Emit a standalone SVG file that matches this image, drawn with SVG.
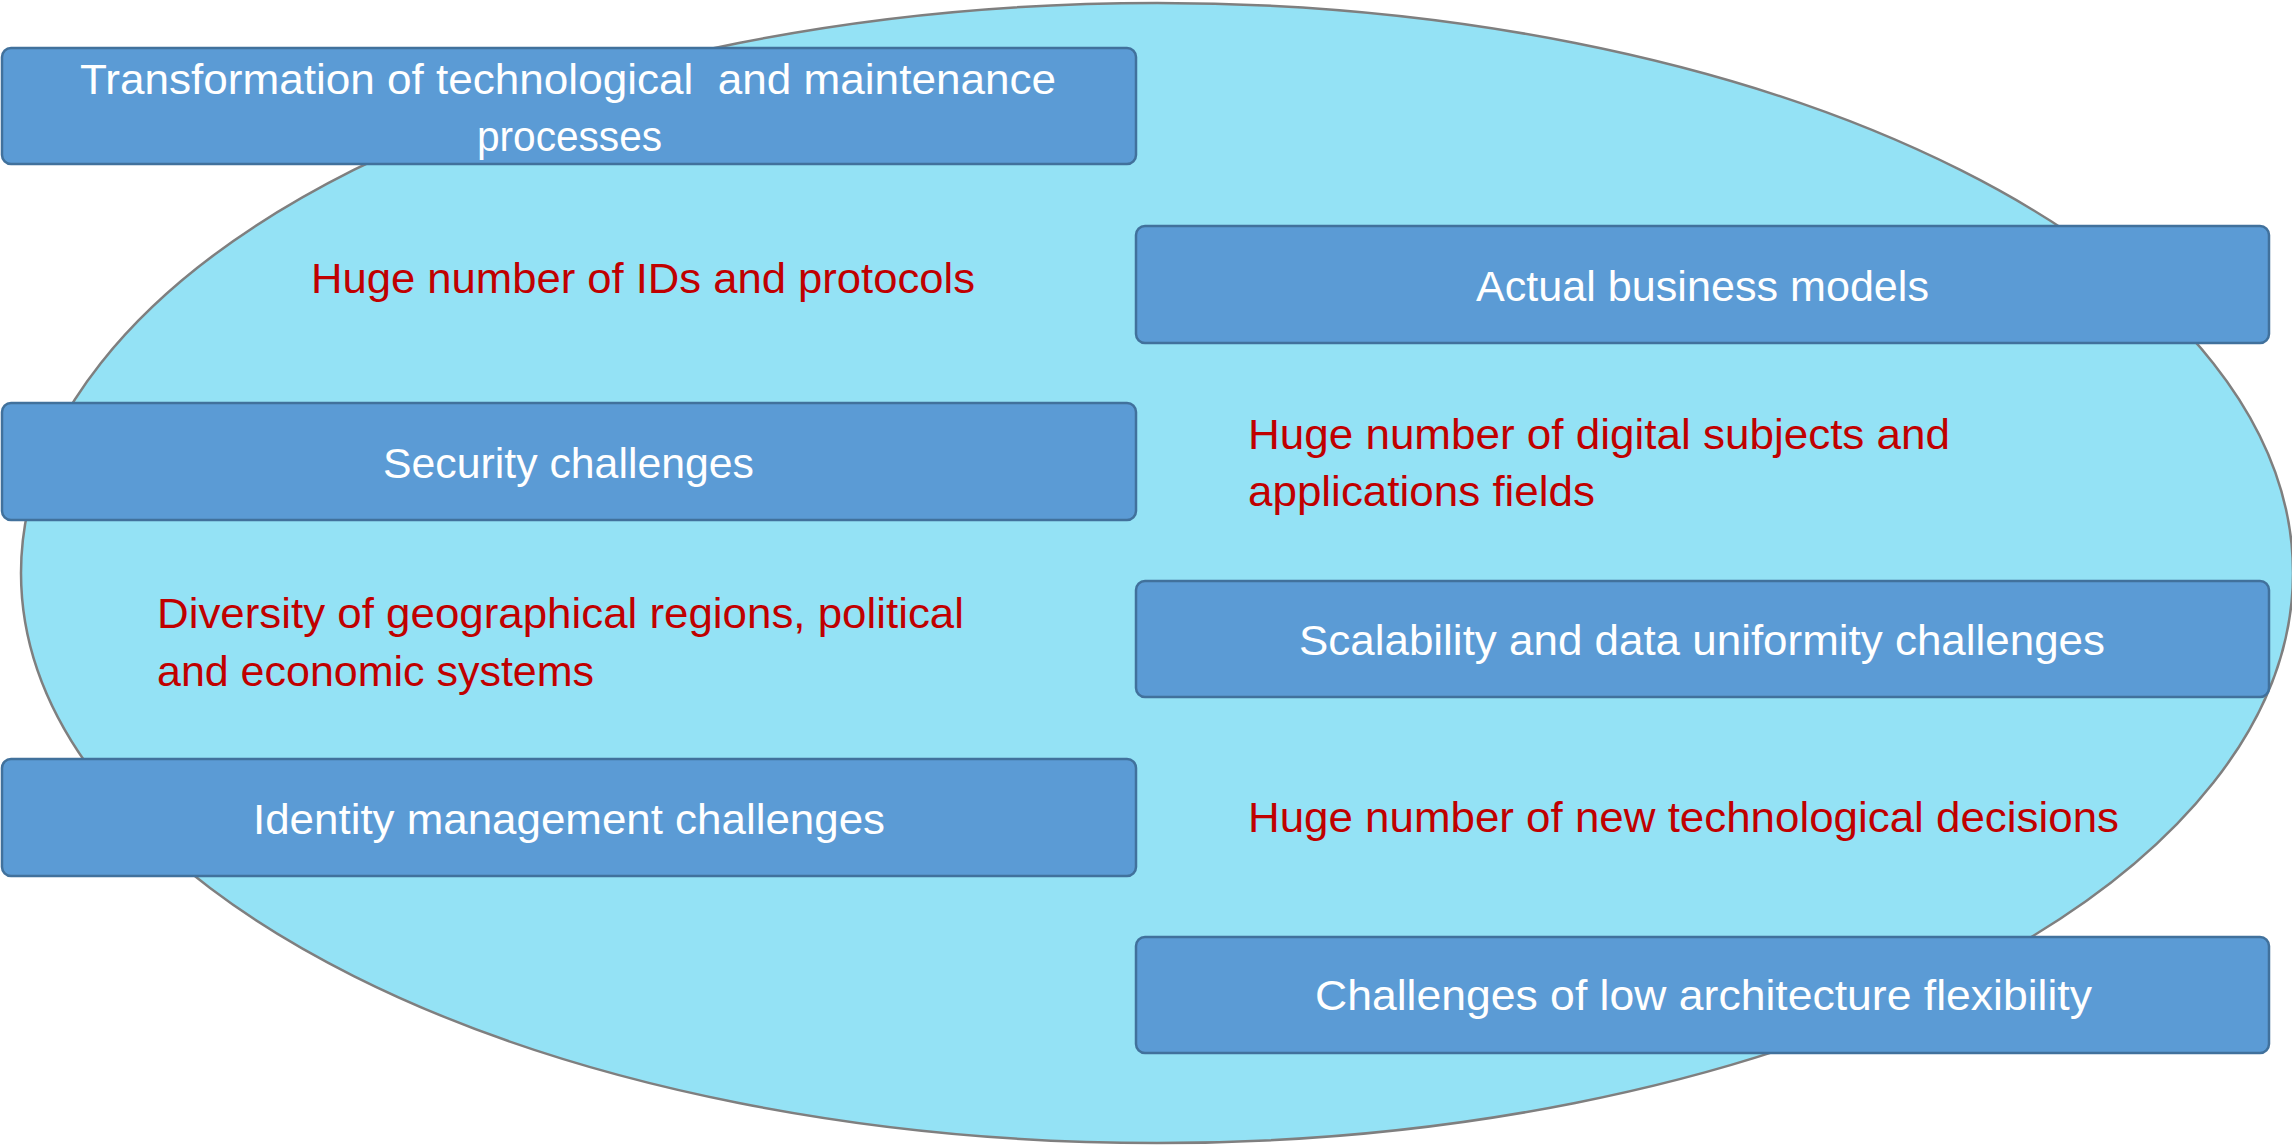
<svg xmlns="http://www.w3.org/2000/svg" width="2292" height="1146" viewBox="0 0 2292 1146">
<style>
.box{fill:#5B9BD5;stroke:#41719C;stroke-width:2.5}
.w{fill:#FFFFFF;font-family:"Liberation Sans",Arial,sans-serif;font-size:42px;white-space:pre}
.r{fill:#C00000;font-family:"Liberation Sans",Arial,sans-serif;font-size:42px;white-space:pre}
</style>
<rect width="2292" height="1146" fill="#FFFFFF"/>
<g id="background-ellipse">
<ellipse cx="1157" cy="573" rx="1136" ry="570" fill="#94E2F5" stroke="#7F7F7F" stroke-width="2.5"/>
</g>
<g id="connectors"></g>
<g id="node-transformation">
<rect class="box" x="2" y="48" width="1134" height="116" rx="9"/>
<text class="w" x="80" y="94" textLength="976" lengthAdjust="spacingAndGlyphs">Transformation of technological  and maintenance</text>
<text class="w" x="477" y="151" textLength="185" lengthAdjust="spacingAndGlyphs">processes</text>
</g>
<g id="node-business">
<rect class="box" x="1136" y="226" width="1133" height="117" rx="9"/>
<text class="w" x="1476" y="301" textLength="453" lengthAdjust="spacingAndGlyphs">Actual business models</text>
</g>
<g id="node-security">
<rect class="box" x="2" y="403" width="1134" height="117" rx="9"/>
<text class="w" x="383" y="478" textLength="371" lengthAdjust="spacingAndGlyphs">Security challenges</text>
</g>
<g id="node-identity">
<rect class="box" x="2" y="759" width="1134" height="117" rx="9"/>
<text class="w" x="253" y="834" textLength="632" lengthAdjust="spacingAndGlyphs">Identity management challenges</text>
</g>
<g id="node-scalability">
<rect class="box" x="1136" y="581" width="1133" height="116" rx="9"/>
<text class="w" x="1299" y="655" textLength="806" lengthAdjust="spacingAndGlyphs">Scalability and data uniformity challenges</text>
</g>
<g id="node-flexibility">
<rect class="box" x="1136" y="937" width="1133" height="116" rx="9"/>
<text class="w" x="1315" y="1010" textLength="777" lengthAdjust="spacingAndGlyphs">Challenges of low architecture flexibility</text>
</g>
<g id="label-ids">
<text class="r" x="311" y="293" textLength="664" lengthAdjust="spacingAndGlyphs">Huge number of IDs and protocols</text>
</g>
<g id="label-digital">
<text class="r" x="1248" y="449" textLength="702" lengthAdjust="spacingAndGlyphs">Huge number of digital subjects and</text>
<text class="r" x="1248" y="506" textLength="347" lengthAdjust="spacingAndGlyphs">applications fields</text>
</g>
<g id="label-diversity">
<text class="r" x="157" y="628" textLength="807" lengthAdjust="spacingAndGlyphs">Diversity of geographical regions, political</text>
<text class="r" x="157" y="686" textLength="437" lengthAdjust="spacingAndGlyphs">and economic systems</text>
</g>
<g id="label-decisions">
<text class="r" x="1248" y="832" textLength="871" lengthAdjust="spacingAndGlyphs">Huge number of new technological decisions</text>
</g>
</svg>
